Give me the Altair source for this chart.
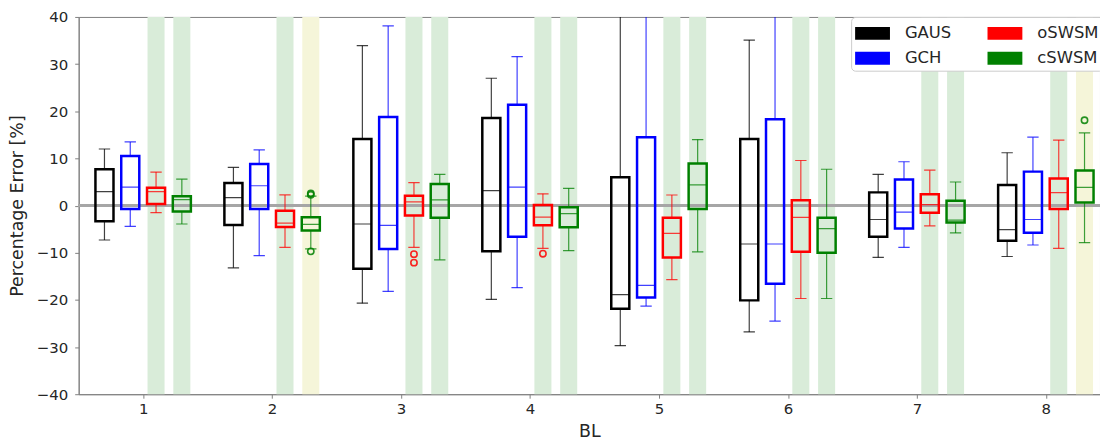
import altair as alt
import pandas as pd

# ---------------- data ----------------
BL = [1, 2, 3, 4, 5, 6, 7, 8]
METHODS = ["GAUS", "GCH", "oSWSM", "cSWSM"]
COLORS = ["black", "blue", "red", "green"]

# whisker low, Q1, median, Q3, whisker high per BL
GAUS_LO = [-7.3, -13.2, -20.7, -19.9, -29.7, -26.8, -11.0, -10.8]
GAUS_Q1 = [-3.3, -4.1, -13.4, -9.7, -21.9, -20.1, -6.6, -7.45]
GAUS_MED = [2.95, 1.7, -3.9, 3.16, -18.9, -8.15, -2.95, -5.1]
GAUS_Q3 = [7.7, 4.8, 14.1, 18.55, 6.0, 14.1, 2.8, 4.36]
GAUS_HI = [12.0, 8.1, 33.9, 27.0, 48.0, 35.1, 6.6, 11.2]

GCH_LO = [-4.4, -10.6, -18.2, -17.4, -21.3, -24.5, -8.85, -8.36]
GCH_Q1 = [-0.7, -0.7, -9.2, -6.6, -19.5, -16.6, -4.85, -5.76]
GCH_MED = [3.9, 4.2, -4.2, 3.9, -16.9, -8.15, -1.4, -2.95]
GCH_Q3 = [10.5, 8.8, 18.8, 21.4, 14.5, 18.3, 5.55, 7.2]
GCH_HI = [13.5, 11.8, 38.1, 31.6, 52.0, 45.0, 9.3, 14.5]

OSWSM_LO = [-1.5, -8.85, -8.85, -9.07, -15.7, -19.7, -4.3, -9.07]
OSWSM_Q1 = [0.35, -4.55, -2.1, -4.15, -11.0, -9.8, -1.5, -0.7]
OSWSM_MED = [2.95, -3.7, 0.8, -2.46, -5.9, -2.5, 0.2, 2.74]
OSWSM_Q3 = [3.8, -1.1, 2.1, 0.14, -2.6, 1.12, 2.4, 5.76]
OSWSM_HI = [7.1, 2.26, 4.85, 2.5, 2.25, 9.56, 7.5, 13.9]

CSWSM_LO = [-3.9, -9.2, -11.5, -9.56, -9.8, -19.7, -5.8, -7.87]
CSWSM_Q1 = [-1.26, -5.3, -2.6, -4.6, -0.7, -10.0, -3.6, 0.63]
CSWSM_MED = [1.26, -4.0, 1.2, -1.7, 4.4, -4.9, -3.1, 3.87]
CSWSM_Q3 = [2.0, -2.45, 4.6, -0.35, 8.9, -2.6, 1.05, 7.45]
CSWSM_HI = [5.6, 2.0, 6.6, 3.65, 14.0, 7.7, 5.0, 15.4]

# outliers
OUT_BL = [3, 3, 4, 2, 2, 2, 8]
OUT_METHOD = ["oSWSM", "oSWSM", "oSWSM", "cSWSM", "cSWSM", "cSWSM", "cSWSM"]
OUT_VALUE = [-10.3, -12.1, -10.2, 2.6, 2.3, -9.7, 18.1]

# shaded bands behind oSWSM / cSWSM boxes ("g" = green, "y" = yellow)
BAND_OSWSM = ["g", "g", "g", "g", "g", "g", "g", "g"]
BAND_CSWSM = ["g", "y", "g", "g", "g", "g", "g", "y"]

Y_TICKS = [-40, -30, -20, -10, 0, 10, 20, 30, 40]

# ---------------- layout constants ----------------
OFFSETS = {"GAUS": -0.3, "GCH": -0.1, "oSWSM": 0.1, "cSWSM": 0.3}
BOX_W = 0.14
CAP_W = 0.088
BAND_W = 0.132
YMIN, YMAX = -40, 40
BAND_COLORS = {"g": "#d9ecd9", "y": "#f5f5d9"}

stats = {
    "GAUS": (GAUS_LO, GAUS_Q1, GAUS_MED, GAUS_Q3, GAUS_HI),
    "GCH": (GCH_LO, GCH_Q1, GCH_MED, GCH_Q3, GCH_HI),
    "oSWSM": (OSWSM_LO, OSWSM_Q1, OSWSM_MED, OSWSM_Q3, OSWSM_HI),
    "cSWSM": (CSWSM_LO, CSWSM_Q1, CSWSM_MED, CSWSM_Q3, CSWSM_HI),
}

rows = []
for m in METHODS:
    lo, q1, med, q3, hi = stats[m]
    for i, b in enumerate(BL):
        x = b + OFFSETS[m]
        rows.append(dict(method=m, BL=b, x=x,
                         xl=x - BOX_W / 2, xr=x + BOX_W / 2,
                         cl=x - CAP_W / 2, cr=x + CAP_W / 2,
                         lo=lo[i], q1=q1[i], med=med[i], q3=q3[i], hi=hi[i]))
box_df = pd.DataFrame(rows)

out_df = pd.DataFrame({"BL": OUT_BL, "method": OUT_METHOD, "value": OUT_VALUE})
out_df["x"] = out_df["BL"] + out_df["method"].map(OFFSETS)

band_rows = []
for m, bands in (("oSWSM", BAND_OSWSM), ("cSWSM", BAND_CSWSM)):
    for i, b in enumerate(BL):
        x = b + OFFSETS[m]
        band_rows.append(dict(x1=x - BAND_W / 2, x2=x + BAND_W / 2,
                              color=BAND_COLORS[bands[i]]))
band_df = pd.DataFrame(band_rows)

# ---------------- scales ----------------
xs = alt.Scale(domain=[0.5, 8.42], nice=False, zero=False)
ys = alt.Scale(domain=[YMIN, YMAX], nice=False, zero=False)
# legend (fill) scale
cs_fill = alt.Scale(domain=METHODS, range=COLORS)
# stroke scale: same mapping, listed in another order so its legend stays separate
cs_stroke = alt.Scale(domain=["GAUS", "GCH", "cSWSM", "oSWSM"],
                      range=["black", "blue", "green", "red"])

x_axis = alt.Axis(values=BL, format="d", title="BL", grid=False,
                  labelFontSize=15, titleFontSize=17.5, titleFontWeight="normal",
                  tickSize=4, labelPadding=3, titlePadding=6)
y_axis = alt.Axis(values=Y_TICKS, format="d", title="Percentage Error [%]", grid=False,
                  labelFontSize=15, titleFontSize=17.5, titleFontWeight="normal",
                  tickSize=4, labelPadding=7, titlePadding=10)

stroke_enc = alt.Stroke("method:N", scale=cs_stroke, legend=None)

bands = alt.Chart(band_df).mark_rect().encode(
    x=alt.X("x1:Q", scale=xs, axis=x_axis),
    x2="x2:Q",
    y=alt.Y(datum=YMIN, scale=ys, axis=y_axis),
    y2=alt.Y2(datum=YMAX),
    color=alt.Color("color:N", scale=None),
)

zero = alt.Chart(band_df).mark_rule(color="#a6a6a6", strokeWidth=2).encode(
    y=alt.Y(datum=0, scale=ys)
)

base = alt.Chart(box_df)

whisk_lo = base.mark_rule(strokeWidth=1.2, strokeOpacity=0.75, clip=True).encode(
    x=alt.X("x:Q", scale=xs), y=alt.Y("lo:Q", scale=ys), y2="q1:Q", stroke=stroke_enc)
whisk_hi = base.mark_rule(strokeWidth=1.2, strokeOpacity=0.75, clip=True).encode(
    x=alt.X("x:Q", scale=xs), y=alt.Y("q3:Q", scale=ys), y2="hi:Q", stroke=stroke_enc)
cap_lo = base.mark_rule(strokeWidth=1.2, strokeOpacity=0.75, clip=True).encode(
    x=alt.X("cl:Q", scale=xs), x2="cr:Q", y=alt.Y("lo:Q", scale=ys), stroke=stroke_enc)
cap_hi = base.mark_rule(strokeWidth=1.2, strokeOpacity=0.75, clip=True).encode(
    x=alt.X("cl:Q", scale=xs), x2="cr:Q", y=alt.Y("hi:Q", scale=ys), stroke=stroke_enc)
boxes = base.mark_rect(fillOpacity=0, strokeWidth=2.5, clip=True).encode(
    x=alt.X("xl:Q", scale=xs), x2="xr:Q",
    y=alt.Y("q1:Q", scale=ys), y2="q3:Q", stroke=stroke_enc)
medians = base.mark_rule(strokeWidth=1.2, strokeOpacity=0.75, clip=True).encode(
    x=alt.X("xl:Q", scale=xs), x2="xr:Q", y=alt.Y("med:Q", scale=ys), stroke=stroke_enc)

outliers = alt.Chart(out_df).mark_point(shape="circle", filled=False, size=40,
                                        strokeWidth=1.6, opacity=0.85).encode(
    x=alt.X("x:Q", scale=xs), y=alt.Y("value:Q", scale=ys), stroke=stroke_enc)

legend_layer = base.mark_rect(strokeWidth=0).encode(
    x=alt.X("x:Q", scale=xs), x2="x:Q",
    y=alt.Y("med:Q", scale=ys), y2="med:Q",
    fill=alt.Fill("method:N", scale=cs_fill, legend=alt.Legend(
        title=None, orient="none", legendX=776, legendY=0,
        values=METHODS, columns=2,
        symbolType="M-1,-0.52H1.8V0.52H-1Z", symbolSize=625, symbolStrokeWidth=0,
        symbolOpacity=1,
        labelFontSize=16.5, labelColor="#262626", labelOffset=25,
        columnPadding=36, rowPadding=4, padding=4,
        fillColor="white", strokeColor="#cccccc", cornerRadius=4,
    )),
)

chart = alt.layer(
    bands, zero, whisk_lo, whisk_hi, cap_lo, cap_hi, boxes, medians, outliers, legend_layer
).properties(
    width=1026, height=379,
    autosize=alt.AutoSizeParams(type="none"),
    padding={"left": 71, "top": 8, "right": 0, "bottom": 45},
).configure(
    font="DejaVu Sans",
).configure_view(
    stroke="#808080", strokeWidth=1,
).configure_axis(
    domainColor="#808080", tickColor="#808080",
    labelColor="#262626", titleColor="#262626",
)

chart.save("out.html", embed_options={"renderer": "svg", "actions": False})
